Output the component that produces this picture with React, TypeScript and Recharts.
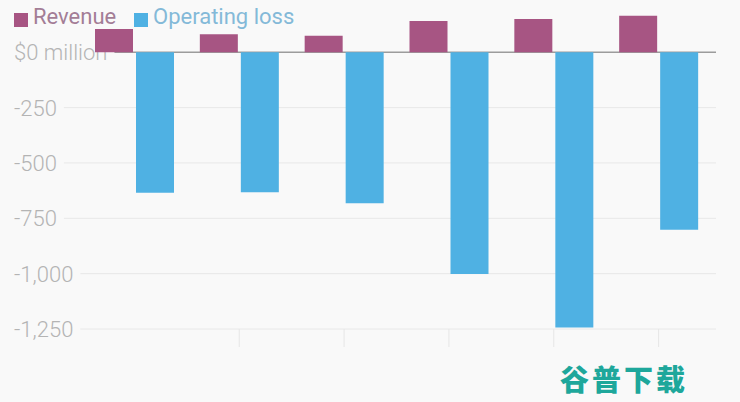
import React from "react";
import { BarChart, Bar, XAxis, YAxis, Legend, CartesianGrid } from "recharts";

const categories = ["P1", "P2", "P3", "P4", "P5", "P6"];
const revenue = [105, 81, 75, 141, 150, 165];
const operatingLoss = [-634, -632, -682, -1001, -1243, -802];
const yTicks = [0, -250, -500, -750, -1000, -1250];
const yTickLabels = ["$0 million", "-250", "-500", "-750", "-1,000", "-1,250"];

const data = categories.map((c, i) => ({
  period: c,
  revenue: revenue[i],
  loss: operatingLoss[i],
}));

const Y_MIN = -1250;
const Y_MAX = 200;
const PLOT_TOP = 0;
const PLOT_H = 321;

const FONT = "Roboto, 'Open Sans', sans-serif";
const LABEL_SIZE = 22;
const REV_COLOR = "#a75583";
const LOSS_COLOR = "#4fb1e3";

let measureCtx: CanvasRenderingContext2D | null = null;
function textWidth(t: string): number {
  try {
    if (!measureCtx) {
      const c = document.createElement("canvas");
      measureCtx = c.getContext("2d");
    }
    if (measureCtx) {
      measureCtx.font = `300 ${LABEL_SIZE}px Roboto`;
      return measureCtx.measureText(t).width;
    }
  } catch (e) {}
  return t.length * LABEL_SIZE * 0.5;
}

function tickValueAt(y: number): number | null {
  const v = Y_MAX - ((y - PLOT_TOP) / PLOT_H) * (Y_MAX - Y_MIN);
  let best = yTicks[0];
  for (const t of yTicks) if (Math.abs(t - v) < Math.abs(best - v)) best = t;
  return Math.abs(best - v) < 20 ? best : null;
}

const GridRow = (props: any) => {
  const y = props.y1;
  const value = tickValueAt(y);
  if (value === null) return <g />;
  const idx = yTicks.indexOf(value);
  const label = yTickLabels[idx];
  const w = textWidth(label);
  const isZero = value === 0;
  return (
    <g>
      <text
        x={6}
        y={y}
        dy="0.36em"
        textAnchor="start"
        fontFamily={FONT}
        fontWeight={300}
        fontSize={LABEL_SIZE}
        fill="#b4b4b4"
      >
        {label}
      </text>
      <line
        x1={6 + w + 7}
        x2={708}
        y1={y}
        y2={y}
        stroke={isZero ? "#9c9c9c" : "#e8e8e8"}
        strokeWidth={isZero ? 1.5 : 1}
      />
    </g>
  );
};

const EmptyTick = () => <g />;

const XTick = (props: any) => {
  const { x, y, index } = props;
  if (index === 0) return <g />;
  return <line x1={x} x2={x} y1={y - 8} y2={y + 10} stroke="#e6e6e6" strokeWidth={1} />;
};

const LegendContent = () => (
  <div style={{ position: "relative", width: 320, height: 30, fontFamily: FONT, fontWeight: 400, fontSize: 22 }}>
    <div style={{ position: "absolute", left: 6, top: 5, width: 14, height: 14, background: REV_COLOR }} />
    <div style={{ position: "absolute", left: 25, top: -4, color: "#a37d96", whiteSpace: "nowrap" }}>Revenue</div>
    <div style={{ position: "absolute", left: 126, top: 5, width: 14, height: 14, background: LOSS_COLOR }} />
    <div style={{ position: "absolute", left: 145, top: -4, color: "#84b9d8", whiteSpace: "nowrap" }}>Operating loss</div>
  </div>
);

export default function App() {
  return (
    <div style={{ position: "absolute", left: 0, top: 0, width: 740, height: 402, background: "#f9f9f9", overflow: "hidden" }}>
      <div style={{ position: "absolute", left: 8, top: 8 }}>
        <BarChart
          width={724}
          height={360}
          data={data}
          margin={{ top: PLOT_TOP, right: 21, bottom: 0, left: 73 }}
          barSize={38}
          barGap={3}
        >
          <CartesianGrid vertical={false} horizontal={(p: any) => <GridRow key={p.key} {...p} />} />
          <YAxis
            width={1}
            domain={[Y_MIN, Y_MAX]}
            ticks={yTicks}
            interval={0}
            axisLine={false}
            tickLine={false}
            tick={<EmptyTick />}
          />
          <XAxis
            dataKey="period"
            height={39}
            axisLine={false}
            tickLine={false}
            tick={<XTick />}
            interval={0}
          />
          <Legend
            verticalAlign="middle"
            align="center"
            layout="horizontal"
            wrapperStyle={{ top: 0, left: 0, width: 330, height: 30 }}
            content={<LegendContent />}
          />
          <Bar dataKey="revenue" name="Revenue" fill={REV_COLOR} isAnimationActive={false} />
          <Bar dataKey="loss" name="Operating loss" fill={LOSS_COLOR} isAnimationActive={false} />
        </BarChart>
      </div>
      <div
        style={{
          position: "absolute",
          left: 560,
          top: 360,
          fontFamily: "'Noto Sans CJK SC', sans-serif",
          fontWeight: 900,
          fontSize: 29,
          lineHeight: "36px",
          color: "#1ea79b",
          letterSpacing: 3,
          whiteSpace: "nowrap",
        }}
      >
        谷普下载
      </div>
    </div>
  );
}
